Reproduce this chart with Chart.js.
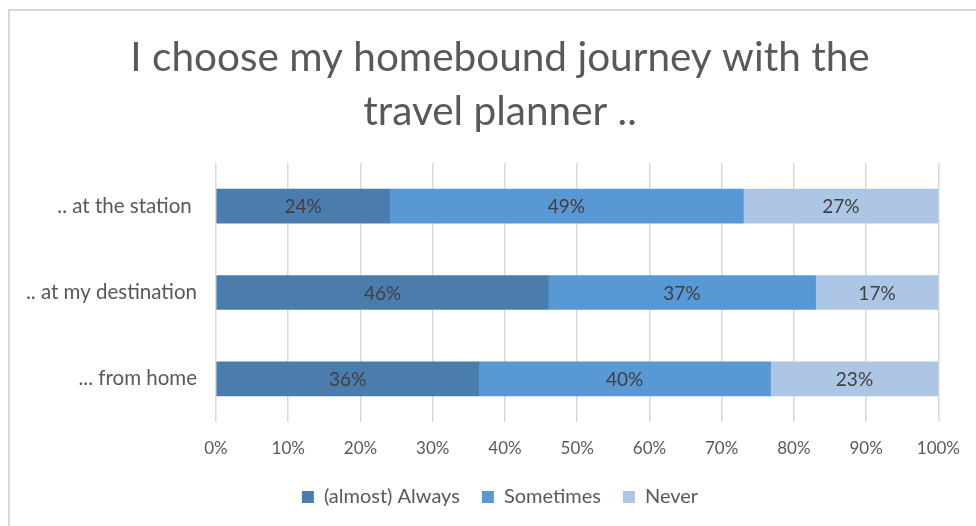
<!DOCTYPE html>
<html>
<head>
<meta charset="utf-8">
<script src="https://cdn.jsdelivr.net/npm/chart.js@4/dist/chart.umd.min.js"></script>
<style>
  html, body { margin: 0; padding: 0; background: #fff; }
  #wrap { position: relative; width: 976px; height: 526px; }
  canvas { display: block; }
</style>
</head>
<body>
<div id="wrap"><canvas id="c" width="976" height="526"></canvas></div>
<script>
// Survey answers, in percent, per place the planner is used
const categories = ['.. at the station ', '.. at my destination', '... from home'];
const seriesNames = ['(almost) Always', 'Sometimes', 'Never'];
const alwaysVals = [24, 46, 36];
const sometimesVals = [49, 37, 40];
const neverVals = [27, 17, 23];
const tickLabels = ['0%', '10%', '20%', '30%', '40%', '50%', '60%', '70%', '80%', '90%', '100%'];
const titleLines = ['I choose my homebound journey with the', 'travel planner ..'];

const colors = ['#4A7DAE', '#5898D4', '#ADC6E5'];
const textColor = '#595959';
const FONT = 'Lato, "Open Sans", sans-serif';

// 100% stacked: each row is scaled so that its parts fill the axis
const raw = [alwaysVals, sometimesVals, neverVals];
const rowTotals = categories.map((_, i) => raw.reduce((s, arr) => s + arr[i], 0));
const shares = raw.map(arr => arr.map((v, i) => v / rowTotals[i] * 100));

// Writes each segment's percentage in the middle of the bar
const barLabels = {
  id: 'barLabels',
  afterDatasetsDraw(chart) {
    const ctx = chart.ctx;
    ctx.save();
    ctx.font = '19px ' + FONT;
    ctx.fillStyle = '#404040';
    ctx.textAlign = 'center';
    ctx.textBaseline = 'middle';
    chart.data.datasets.forEach((ds, di) => {
      chart.getDatasetMeta(di).data.forEach((bar, i) => {
        const p = bar.getProps(['x', 'y', 'base'], true);
        ctx.fillText(raw[di][i] + '%', (p.x + p.base) / 2, p.y + 1);
      });
    });
    ctx.restore();
  }
};

// Light frame around the chart
const frame = {
  id: 'frame',
  beforeDraw(chart) {
    const ctx = chart.ctx;
    ctx.save();
    ctx.fillStyle = '#fff';
    ctx.fillRect(0, 0, chart.width, chart.height);
    ctx.strokeStyle = '#D9D9D9';
    ctx.lineWidth = 2;
    ctx.strokeRect(9, 10, chart.width + 20, chart.height + 20);
    ctx.restore();
  }
};

new Chart(document.getElementById('c'), {
  type: 'bar',
  data: {
    labels: categories,
    datasets: seriesNames.map((name, k) => ({
      label: name,
      data: shares[k],
      backgroundColor: colors[k],
      borderWidth: 0,
      barThickness: 34
    }))
  },
  options: {
    indexAxis: 'y',
    responsive: false,
    animation: false,
    devicePixelRatio: 1,
    layout: { padding: { left: 24, right: 0, top: 0, bottom: 9 } },
    plugins: {
      title: {
        display: true,
        text: titleLines,
        color: textColor,
        font: { family: FONT, size: 40.5, weight: 'normal', lineHeight: 1.333 },
        padding: { top: 31, bottom: 24 }
      },
      legend: {
        position: 'bottom',
        labels: {
          color: textColor,
          font: { family: FONT, size: 20 },
          boxWidth: 12,
          boxHeight: 12,
          padding: 22
        }
      },
      tooltip: { enabled: false }
    },
    scales: {
      x: {
        stacked: true,
        min: 0,
        max: 100,
        afterFit(s) { s.height = 43; },
        afterBuildTicks(s) {
          s.ticks = tickLabels.map((_, i) => ({ value: i * 10 }));
        },
        ticks: {
          color: textColor,
          font: { family: FONT, size: 17 },
          padding: 16,
          callback: (v, i) => tickLabels[i]
        },
        grid: { color: '#D9D9D9', lineWidth: 1.5, drawTicks: false },
        border: { display: false }
      },
      y: {
        stacked: true,
        afterFit(s) { s.width = 192; },
        ticks: {
          color: textColor,
          font: { family: FONT, size: 20.5 },
          padding: 19
        },
        grid: { display: false, drawTicks: false },
        border: { display: false }
      },
      // empty margin on the right of the plot
      yRight: {
        type: 'category',
        position: 'right',
        afterFit(s) { s.width = 36; },
        ticks: { display: false },
        grid: { display: false, drawTicks: false },
        border: { display: false }
      }
    }
  },
  plugins: [frame, barLabels]
});
</script>
</body>
</html>
